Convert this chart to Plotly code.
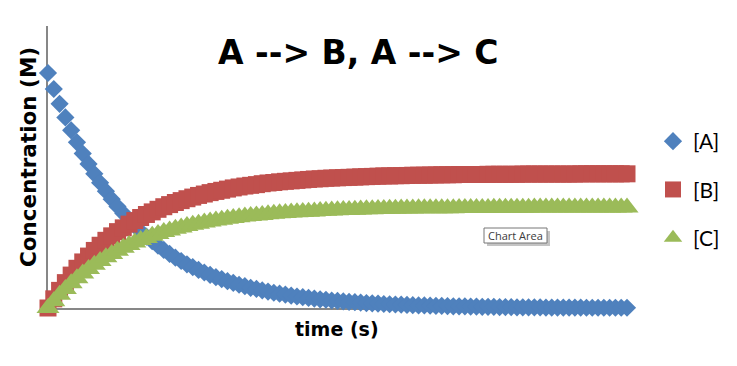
import plotly.graph_objects as go

# time points (s)
time = list(range(0, 101))

conc_A = [1.000, 0.932, 0.869, 0.811, 0.756, 0.705, 0.657, 0.613, 0.571, 0.533,
          0.497, 0.463, 0.432, 0.403, 0.375, 0.350, 0.326, 0.304, 0.284, 0.265,
          0.247, 0.230, 0.214, 0.200, 0.186, 0.174, 0.162, 0.151, 0.141, 0.131,
          0.123, 0.114, 0.107, 0.099, 0.093, 0.086, 0.081, 0.075, 0.070, 0.065,
          0.061, 0.057, 0.053, 0.049, 0.046, 0.043, 0.040, 0.037, 0.035, 0.032,
          0.030, 0.028, 0.026, 0.025, 0.023, 0.021, 0.020, 0.019, 0.017, 0.016,
          0.015, 0.014, 0.013, 0.012, 0.011, 0.011, 0.010, 0.009, 0.009, 0.008,
          0.007, 0.007, 0.007, 0.006, 0.006, 0.005, 0.005, 0.005, 0.004, 0.004,
          0.004, 0.003, 0.003, 0.003, 0.003, 0.003, 0.002, 0.002, 0.002, 0.002,
          0.002, 0.002, 0.002, 0.001, 0.001, 0.001, 0.001, 0.001, 0.001, 0.001, 0.001]

conc_B = [0.000, 0.039, 0.075, 0.108, 0.140, 0.169, 0.196, 0.221, 0.245, 0.267,
          0.288, 0.307, 0.325, 0.341, 0.357, 0.372, 0.385, 0.398, 0.409, 0.420,
          0.431, 0.440, 0.449, 0.457, 0.465, 0.472, 0.479, 0.485, 0.491, 0.496,
          0.501, 0.506, 0.511, 0.515, 0.519, 0.522, 0.525, 0.529, 0.532, 0.534,
          0.537, 0.539, 0.541, 0.543, 0.545, 0.547, 0.549, 0.550, 0.552, 0.553,
          0.554, 0.555, 0.556, 0.557, 0.558, 0.559, 0.560, 0.561, 0.562, 0.562,
          0.563, 0.563, 0.564, 0.565, 0.565, 0.565, 0.566, 0.566, 0.567, 0.567,
          0.567, 0.568, 0.568, 0.568, 0.568, 0.568, 0.569, 0.569, 0.569, 0.569,
          0.569, 0.569, 0.570, 0.570, 0.570, 0.570, 0.570, 0.570, 0.570, 0.570,
          0.570, 0.570, 0.571, 0.571, 0.571, 0.571, 0.571, 0.571, 0.571, 0.571, 0.571]

conc_C = [0.000, 0.029, 0.056, 0.081, 0.105, 0.127, 0.147, 0.166, 0.184, 0.200,
          0.216, 0.230, 0.244, 0.256, 0.268, 0.279, 0.289, 0.298, 0.307, 0.315,
          0.323, 0.330, 0.337, 0.343, 0.349, 0.354, 0.359, 0.364, 0.368, 0.372,
          0.376, 0.380, 0.383, 0.386, 0.389, 0.392, 0.394, 0.396, 0.399, 0.401,
          0.403, 0.404, 0.406, 0.407, 0.409, 0.410, 0.411, 0.413, 0.414, 0.415,
          0.416, 0.417, 0.417, 0.418, 0.419, 0.420, 0.420, 0.421, 0.421, 0.422,
          0.422, 0.423, 0.423, 0.423, 0.424, 0.424, 0.424, 0.425, 0.425, 0.425,
          0.425, 0.426, 0.426, 0.426, 0.426, 0.426, 0.426, 0.427, 0.427, 0.427,
          0.427, 0.427, 0.427, 0.427, 0.428, 0.428, 0.428, 0.428, 0.428, 0.428,
          0.428, 0.428, 0.428, 0.428, 0.428, 0.428, 0.428, 0.428, 0.428, 0.428, 0.428]

series_names = ["[A]", "[B]", "[C]"]
colors = ["#4F81BD", "#C0504D", "#9BBB59"]
symbols = ["diamond", "square", "triangle-up"]
sizes = [14, 17, 20]

W, H = 737, 366
L, R, T, B = 48, 110, 26, 58
PW, PH = W - L - R, H - T - B


def px(x):
    return (x - L) / PW


def py(y):
    return (H - B - y) / PH


fig = go.Figure()
for name, ys, c, s, sz in zip(series_names, [conc_A, conc_B, conc_C], colors, symbols, sizes):
    fig.add_trace(go.Scatter(
        x=time, y=ys, mode="markers", name=name, legendgroup=name,
        marker=dict(symbol=s, size=sz, color=c, line=dict(width=0)),
        cliponaxis=False,
    ))

font_family = "'DejaVu Sans', sans-serif"
legend_family = "Lato, 'Open Sans', sans-serif"

fig.update_layout(
    width=W, height=H,
    margin=dict(l=L, r=R, t=T, b=B, autoexpand=False),
    paper_bgcolor="white", plot_bgcolor="white",
    showlegend=True,
    legend=dict(x=px(653), y=py(121), xanchor="left", yanchor="top",
                font=dict(family=legend_family, size=21, color="black"),
                tracegroupgap=18, itemsizing="trace", bgcolor="rgba(0,0,0,0)"),
    xaxis=dict(range=[0, 100], showgrid=False, zeroline=False, showticklabels=False,
               ticks="", showline=True, linecolor="#878787", linewidth=1.5,
               layer="below traces", fixedrange=True),
    yaxis=dict(range=[0, 1.2], showgrid=False, zeroline=False, showticklabels=False,
               ticks="", showline=True, linecolor="#878787", linewidth=1.5,
               layer="below traces", fixedrange=True),
    font=dict(family=font_family, color="black"),
)

fig.add_annotation(text="<b>A --> B, A --> C</b>", xref="paper", yref="paper",
                   x=px(359), y=py(52), xanchor="center", yanchor="middle", showarrow=False,
                   font=dict(family=font_family, size=33, color="black"))
fig.add_annotation(text="<b>Concentration (M)</b>", xref="paper", yref="paper",
                   x=px(29), y=py(157), xanchor="center", yanchor="middle",
                   showarrow=False, textangle=-90,
                   font=dict(family=font_family, size=21.5, color="black"))
fig.add_annotation(text="<b>time (s)</b>", xref="paper", yref="paper",
                   x=px(337), y=py(329), xanchor="center", yanchor="middle", showarrow=False,
                   font=dict(family=font_family, size=19, color="black"))

# "Chart Area" tooltip with shadow
fig.add_shape(type="rect", xref="paper", yref="paper",
              x0=px(487), x1=px(550), y0=py(231), y1=py(246),
              fillcolor="#C4C4C4", line=dict(width=0), layer="above")
fig.add_shape(type="rect", xref="paper", yref="paper",
              x0=px(484), x1=px(547), y0=py(228), y1=py(243),
              fillcolor="white", line=dict(color="#767676", width=1), layer="above")
fig.add_annotation(text="Chart Area", xref="paper", yref="paper",
                   x=px(515.5), y=py(235.5), xanchor="center", yanchor="middle", showarrow=False,
                   font=dict(family="'Open Sans', sans-serif", size=11, color="#3C3C3C"))

fig.write_html("out.html")
